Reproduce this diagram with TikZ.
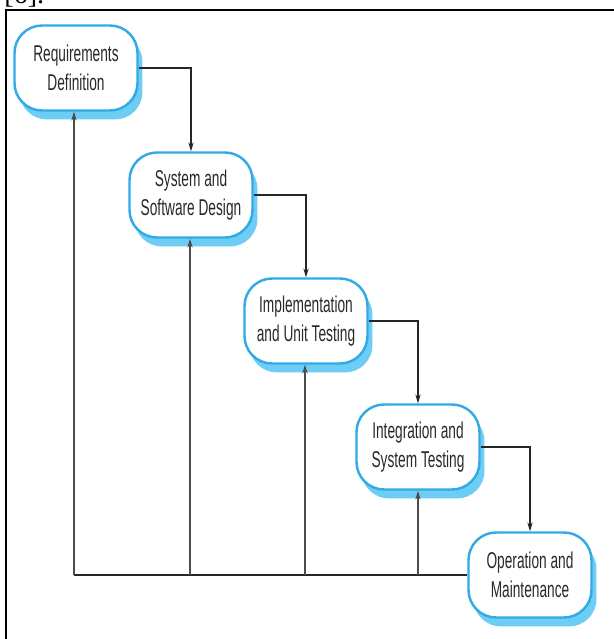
\documentclass[tikz,border=0pt]{standalone}
\usepackage{fontspec}
\setmainfont{Liberation Serif}
\newfontfamily\phasefont[FakeStretch=0.6]{Liberation Sans}
\usetikzlibrary{arrows.meta,shadows}
\definecolor{phaseline}{RGB}{50,170,230}
\definecolor{phaseshade}{RGB}{110,205,245}
\definecolor{phasetext}{RGB}{45,40,40}

\begin{document}
\begin{tikzpicture}[x=0.02cm, y=-0.02cm,
	phase/.style={draw=phaseline, line width=1.4pt, fill=white, rounded corners=0.55cm,
		minimum width=2.46cm, minimum height=1.7cm, align=center, text=phasetext,
		font=\phasefont\fontsize{13}{16.6}\selectfont,
		drop shadow={shadow xshift=0.1cm, shadow yshift=-0.18cm, fill=phaseshade, opacity=1}},
	flow/.style={line width=0.6pt, draw=black!85, -{Stealth[length=5pt,width=3pt]}},
	back/.style={line width=0.8pt, draw=black!70, -{Stealth[length=5pt,width=3pt]}}]
			%%%%% START %%%%%
			
			\useasboundingbox (0, 0) rectangle (614, 639);
			
			\node[anchor=base west, inner sep=0, font=\fontsize{16}{16}\selectfont] (cite) at (4, 4) {[6].};
			\draw[line width=1.6pt] (6, 660) -- (6, 10) -- (640, 10);
			
			\node[phase] (req) at (76, 68) {Requirements\\Definition};
			\node[phase] (sys) at (191, 195) {System and\\Software Design};
			\node[phase] (imp) at (306, 321) {Implementation\\and Unit Testing};
			\node[phase] (int) at (418, 447) {Integration and\\System Testing};
			\node[phase] (ops) at (530, 575) {Operation and\\Maintenance};
			
			\draw[flow] (req.east) -| (sys.north);
			\draw[flow] (sys.east) -| (imp.north);
			\draw[flow] (imp.east) -| (int.north);
			\draw[flow] (int.east) -| (ops.north);
			
			\coordinate (fb1) at (74, 575);
			\coordinate (fb2) at (190, 575);
			\coordinate (fb3) at (305, 575);
			\coordinate (fb4) at (418, 575);
			
			\draw[line width=1.3pt, draw=black!85] (fb1) -- (ops.west);
			\draw[back] (fb1) -- (fb1 |- req.south);
			\draw[back] (fb2) -- (fb2 |- sys.south);
			\draw[back] (fb3) -- (fb3 |- imp.south);
			\draw[back] (fb4) -- (fb4 |- int.south);
			
			%%%%% END %%%%%
\end{tikzpicture}
\end{document}
